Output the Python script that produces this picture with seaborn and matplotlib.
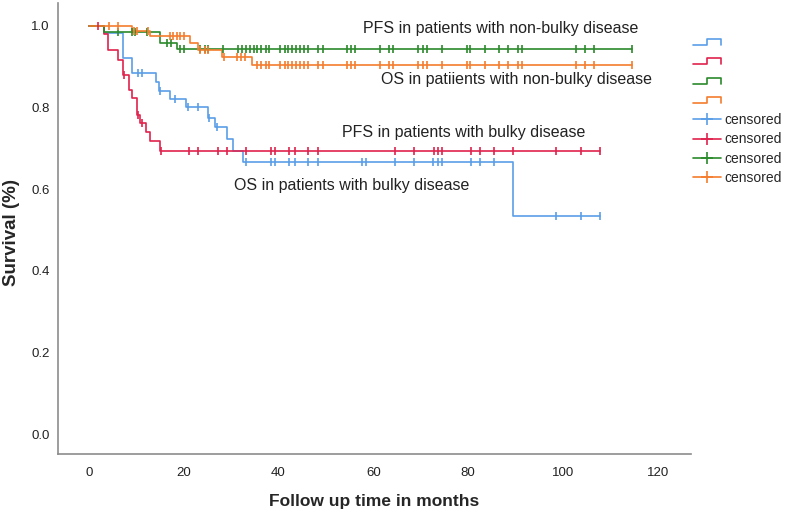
import numpy as np
import pandas as pd
import seaborn as sns
import matplotlib
matplotlib.use("Agg")
from matplotlib import pyplot as plt
from matplotlib.lines import Line2D
from matplotlib.legend_handler import HandlerBase

# step curves: event times (months) and survival after each event
os_bulky_t = [0, 3.1, 7.2, 9.1, 14.2, 14.9, 17.2, 20.5, 25.2, 26.6, 29.1, 30.4, 32.6, 89.5]
os_bulky_s = [1.0, 0.982, 0.922, 0.885, 0.862, 0.840, 0.822, 0.800, 0.775, 0.753, 0.724, 0.694, 0.666, 0.534]
os_bulky_cens = [10.3, 11.2, 15.1, 18.2, 21.0, 23.1, 25.4, 27.0, 33.1, 38.5, 39.3, 42.3, 43.4, 46.3,
                 48.4, 57.6, 58.4, 64.6, 68.5, 72.6, 73.6, 74.5, 80.7, 82.5, 85.5, 98.6, 103.7, 107.9]

pfs_bulky_t = [0, 3.1, 4.1, 6.2, 7.2, 8.4, 9.1, 10.1, 10.8, 12.1, 12.9, 15.0]
pfs_bulky_s = [1.0, 0.980, 0.940, 0.917, 0.879, 0.843, 0.823, 0.782, 0.762, 0.741, 0.718, 0.694]
pfs_bulky_cens = [2.0, 7.5, 10.4, 11.2, 15.2, 21.2, 23.1, 27.3, 29.1, 33.1, 38.5, 39.3, 42.3, 43.4,
                  46.3, 48.4, 64.6, 68.5, 72.7, 73.6, 74.5, 80.7, 82.5, 85.5, 89.5, 98.6, 103.7, 107.9]

pfs_nonbulky_t = [0, 3.1, 15.0, 18.6]
pfs_nonbulky_s = [1.0, 0.986, 0.958, 0.944]

os_nonbulky_t = [0, 9.1, 12.9, 21.4, 23.1, 28.1, 34.4]
os_nonbulky_s = [1.0, 0.988, 0.974, 0.958, 0.941, 0.923, 0.905]

# censor times shared by the two non-bulky curves
nonbulky_cens_late = [35.4, 36.4, 37.3, 38.1, 40.4, 41.3, 42.0, 42.8, 43.7, 44.6, 45.4, 46.3, 48.4,
                      49.4, 54.4, 55.3, 56.2, 61.5, 63.4, 64.2, 69.5, 70.5, 71.3, 74.5, 79.7, 80.4,
                      83.6, 86.6, 88.5, 90.6, 91.4, 102.8, 104.7, 106.6, 114.6]
pfs_nonbulky_cens = [6.2, 9.1, 9.8, 12.2, 16.5, 17.3, 19.3, 20.0, 23.5, 24.5, 25.2, 28.3, 31.4,
                     32.3, 33.1, 34.0, 34.9] + nonbulky_cens_late
os_nonbulky_cens = [4.3, 6.2, 9.5, 10.2, 12.5, 17.2, 17.8, 18.6, 19.3, 20.1, 23.5, 24.5, 25.2,
                    28.5, 31.2, 32.1, 33.0] + nonbulky_cens_late

colors = ["#5a9ee8", "#e0234e", "#2b8a2b", "#f57d2e"]
curves = [
    (os_bulky_t, os_bulky_s, os_bulky_cens),
    (pfs_bulky_t, pfs_bulky_s, pfs_bulky_cens),
    (pfs_nonbulky_t, pfs_nonbulky_s, pfs_nonbulky_cens),
    (os_nonbulky_t, os_nonbulky_s, os_nonbulky_cens),
]

notes = [
    ("PFS in patients with non-bulky disease", 57.9, 0.994),
    ("OS in patiients with non-bulky disease", 61.7, 0.868),
    ("PFS in patients with bulky disease", 53.3, 0.738),
    ("OS in patients with bulky disease", 30.7, 0.610),
]


class StepHandler(HandlerBase):
    def create_artists(self, legend, orig_handle, xdescent, ydescent, width, height, fontsize, trans):
        x0, y0 = -xdescent, -ydescent
        xm = x0 + width * 0.5
        lo, hi = y0 + height * 0.2, y0 + height * 0.8
        line = Line2D([x0, xm, xm, x0 + width, x0 + width], [lo, lo, hi, hi, lo],
                      color=orig_handle.get_color(), lw=1.2)
        line.set_transform(trans)
        return [line]


sns.set_style("white")
plt.rcParams["font.family"] = ["Liberation Sans", "DejaVu Sans"]

fig = plt.figure(figsize=(7.87, 5.14), dpi=100)
ax = fig.add_axes([58 / 787, 60 / 514, 633 / 787, 451 / 514])

step_handles = []
cens_handles = []
for (t, s, cens), col in zip(curves, colors):
    t = list(t) + [max(cens)]
    s = list(s) + [s[-1]]
    df = pd.DataFrame({"t": t, "s": s})
    sns.lineplot(data=df, x="t", y="s", ax=ax, color=col, lw=1.2,
                 drawstyle="steps-post", estimator=None, sort=False)
    idx = np.searchsorted(t, cens, side="right") - 1
    cdf = pd.DataFrame({"t": cens, "s": np.array(s)[idx]})
    sns.scatterplot(data=cdf, x="t", y="s", ax=ax, color=col, marker="|",
                    s=32, linewidth=1.2, zorder=3)
    step_handles.append(Line2D([], [], color=col))
    cens_handles.append(Line2D([], [], color=col, lw=1.2, marker="+", markersize=9,
                               markeredgewidth=1.2))

for txt, x, y in notes:
    ax.text(x, y, txt, fontsize=11.5, color="#222222", ha="left", va="center")

ax.set_xlim(-6.5, 127)
ax.set_ylim(-0.049, 1.056)
ax.set_xticks(range(0, 121, 20))
ax.set_yticks(np.arange(0, 1.01, 0.2))
ax.set_yticklabels([f"{v:.1f}" for v in np.arange(0, 1.01, 0.2)])
ax.tick_params(length=0, labelsize=9.5, colors="#222222")
ax.tick_params(axis="x", pad=9)
ax.tick_params(axis="y", pad=6)
for side in ["top", "right"]:
    ax.spines[side].set_visible(False)
for side in ["left", "bottom"]:
    ax.spines[side].set_color("#8c8c8c")
    ax.spines[side].set_linewidth(1.2)

ax.set_xlabel("Follow up time in months", fontsize=12.5, fontweight="bold")
ax.set_ylabel("Survival (%)", fontsize=13.5, fontweight="bold")
ax.xaxis.set_label_coords(0.5, -0.088)
ax.yaxis.set_label_coords(-0.060, 0.492)

handles = step_handles + cens_handles
labels = [""] * 4 + ["censored"] * 4
hmap = {h: StepHandler() for h in step_handles}
fig.legend(handles, labels, handler_map=hmap, loc="upper left",
           bbox_to_anchor=(693 / 787, 1 - 36 / 514), frameon=False, fontsize=10,
           handlelength=2.0, handletextpad=0.25, labelspacing=0.38,
           borderpad=0, borderaxespad=0)

fig.savefig("out.png", dpi=100)
